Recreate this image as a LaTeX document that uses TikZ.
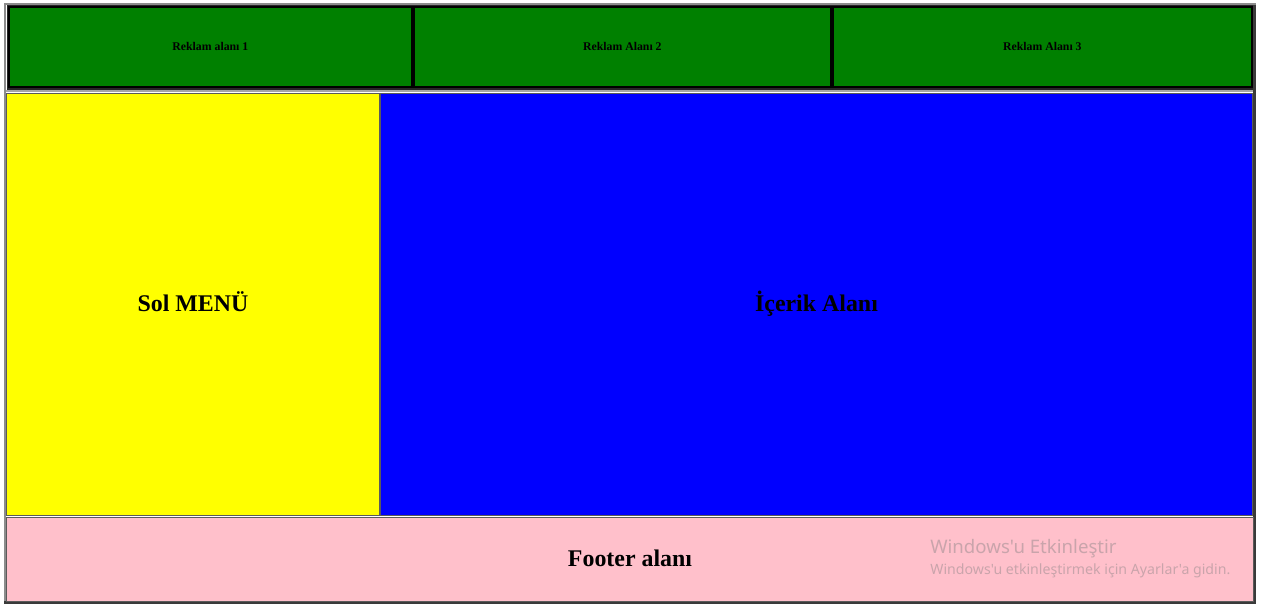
\documentclass[tikz,border=0pt]{standalone}
\usepackage{fontspec}
\setmainfont{Liberation Serif}
\newfontfamily\winfont{Noto Sans}
\usetikzlibrary{positioning}

\definecolor{htmlgreen}{HTML}{008000}
\definecolor{htmlyellow}{HTML}{FFFF00}
\definecolor{htmlblue}{HTML}{0000FF}
\definecolor{htmlpink}{HTML}{FFC0CB}
\definecolor{lightedge}{HTML}{8C8C8C}
\definecolor{darkedge}{HTML}{3A3A3A}
\definecolor{celledge}{HTML}{5A5A5A}
\definecolor{watermark}{HTML}{C9A4AB}

\begin{document}
\begin{tikzpicture}[
  x=0.02cm, y=-0.02cm,
  cell/.style={draw=celledge, line width=0.02cm, anchor=north west, inner sep=0pt,
    text height=11.3pt, text depth=3pt, font=\fontsize{13.6}{16}\selectfont\bfseries},
  adcell/.style={draw=black, line width=0.035cm, fill=htmlgreen, anchor=north west, inner sep=0pt,
    minimum height=80*0.02cm, font=\fontsize{6.7}{8}\selectfont\bfseries},
  wmark/.style={anchor=base west, inner sep=0pt, text=watermark}
]
\useasboundingbox[fill=white] (0,0) rectangle (1261,610);

% outset frame of the page table
\fill[lightedge] (4,3) rectangle (1256,5);
\fill[lightedge] (4,3) rectangle (6,604);
\fill[darkedge] (1253,5) rectangle (1256,604);
\fill[darkedge] (4,601) rectangle (1256,604);

% header row
\fill[black!85] (7,5) rectangle (1253,90);
\fill[black!35] (6,90) rectangle (1253,92);
\node[adcell, minimum width=403*0.02cm] (ad1) at (8,6) {Reklam alanı 1};
\node[adcell, minimum width=417*0.02cm] (ad2) at (413,6) {Reklam Alanı 2};
\node[adcell, minimum width=419*0.02cm] (ad3) at (832,6) {Reklam Alanı 3};

% middle row
\node[cell, fill=htmlyellow, minimum width=373*0.02cm, minimum height=422*0.02cm] (menu) at (6,93) {Sol MENÜ};
\node[cell, fill=htmlblue, minimum width=872*0.02cm, minimum height=422*0.02cm] (content) at (380,93) {İçerik Alanı};

% footer row
\node[cell, fill=htmlpink, minimum width=1247*0.02cm, minimum height=84*0.02cm] (footer) at (6,517) {Footer alanı};

% activation notice
\node[wmark, font=\winfont\fontsize{10.6}{12}\selectfont] (wtitle) at (930,553) {Windows'u Etkinleştir};
\node[wmark, font=\winfont\fontsize{8.05}{9}\selectfont] (wtext) at (930,574) {Windows'u etkinleştirmek için Ayarlar'a gidin.};
\end{tikzpicture}
\end{document}
